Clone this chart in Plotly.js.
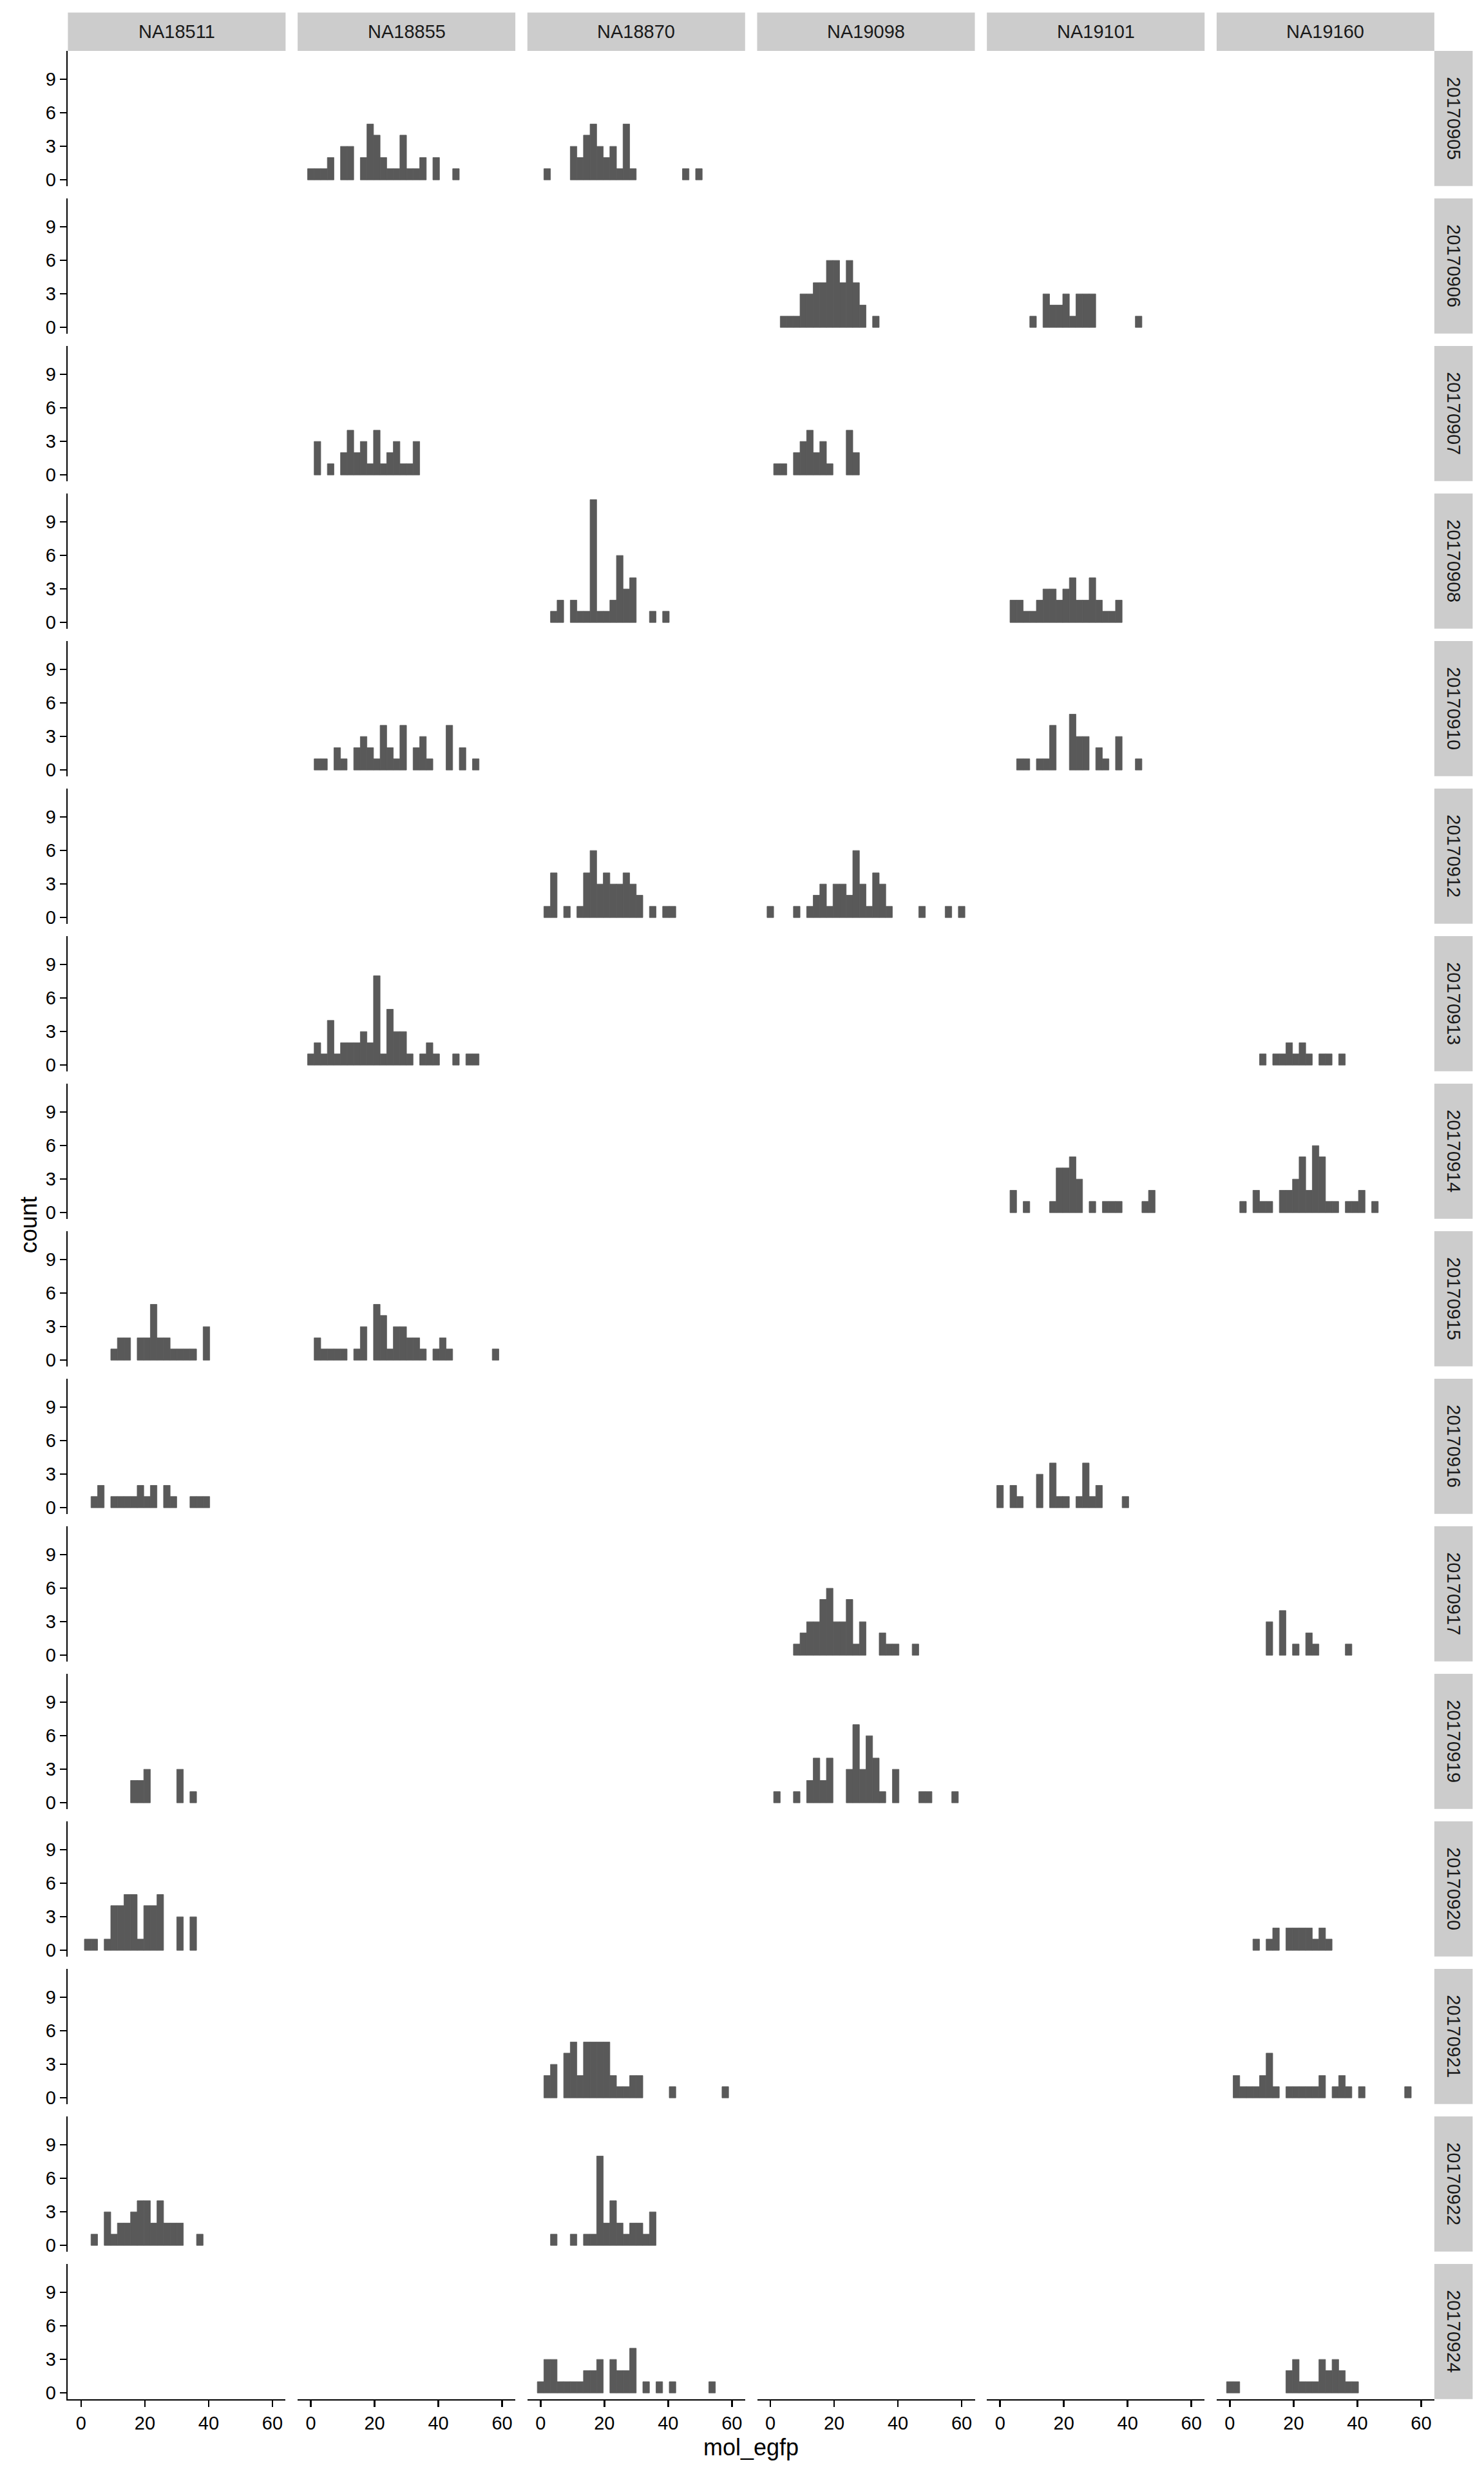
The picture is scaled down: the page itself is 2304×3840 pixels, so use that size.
<!DOCTYPE html>
<html><head><meta charset="utf-8">
<script src="https://cdn.plot.ly/plotly-3.0.1.min.js"></script>
<style>html,body{margin:0;padding:0;background:#fff}#chart{width:2304px;height:3840px}</style>
</head><body><div id="chart"></div>
<script>
// facet labels
const individuals = ["NA18511","NA18855","NA18870","NA19098","NA19101","NA19160"];
const dates = ["20170905","20170906","20170907","20170908","20170910","20170912","20170913","20170914",
               "20170915","20170916","20170917","20170919","20170920","20170921","20170922","20170924"];
const xTicks = [0,20,40,60];
const yTicks = [0,3,6,9];
const binWidth = 60/29;   // 30 bins over the data range, bin i centred at i*binWidth

// histogram counts per bin (index 0 = bin centred at 0)
const NA18855_20170905 = [1,1,1,2,0,3,3,0,2,5,4,2,1,1,4,1,1,2,0,2,0,0,1];
const NA18870_20170905 = [0,1,0,0,0,3,2,4,5,3,2,3,1,5,1,0,0,0,0,0,0,0,1,0,1];
const NA19098_20170906 = [0,0,1,1,1,3,3,4,4,6,6,4,6,4,2,0,1];
const NA19101_20170906 = [0,0,0,0,0,1,0,3,2,2,3,1,3,3,3,0,0,0,0,0,0,1];
const NA18855_20170907 = [0,3,0,1,0,2,4,2,3,1,4,1,2,3,1,1,3];
const NA19098_20170907 = [0,1,1,0,2,3,4,2,3,1,0,0,4,2];
const NA18870_20170908 = [0,0,1,2,0,2,1,1,11,1,1,2,6,3,4,0,0,1,0,1];
const NA19101_20170908 = [0,0,2,2,1,1,2,3,3,2,3,4,2,2,4,2,1,1,2];
const NA18855_20170910 = [0,1,1,0,2,1,0,2,3,2,1,4,2,1,4,0,2,3,1,0,0,4,0,2,0,1];
const NA19101_20170910 = [0,0,0,1,1,0,1,1,4,0,0,5,3,3,0,2,1,0,3,0,0,1];
const NA18870_20170912 = [0,1,4,0,1,0,1,4,6,3,4,3,3,4,3,2,0,1,0,1,1];
const NA19098_20170912 = [1,0,0,0,1,0,1,2,3,1,3,3,2,6,3,1,4,3,1,0,0,0,0,1,0,0,0,1,0,1];
const NA18855_20170913 = [1,2,1,4,1,2,2,2,3,2,8,1,5,3,3,1,0,1,2,1,0,0,1,0,1,1];
const NA19160_20170913 = [0,0,0,0,0,1,0,1,1,2,1,2,1,0,1,1,0,1];
const NA19101_20170914 = [0,0,2,0,1,0,0,0,1,4,4,5,3,0,1,0,1,1,1,0,0,0,1,2];
const NA19160_20170914 = [0,0,1,0,2,1,1,0,2,2,3,5,2,6,5,1,1,0,1,1,2,0,1];
const NA18511_20170915 = [0,0,0,0,0,1,2,2,0,2,2,5,2,2,1,1,1,1,0,3];
const NA18855_20170915 = [0,2,1,1,1,1,0,1,3,0,5,4,1,3,3,2,2,1,0,1,2,1,0,0,0,0,0,0,1];
const NA18511_20170916 = [0,0,1,2,0,1,1,1,1,2,1,2,0,2,1,0,0,1,1,1];
const NA19101_20170916 = [2,0,2,1,0,0,3,0,4,1,1,0,1,4,1,2,0,0,0,1];
const NA19098_20170917 = [0,0,0,0,1,2,3,3,5,6,3,3,5,1,3,0,0,2,1,1,0,0,1];
const NA19160_20170917 = [0,0,0,0,0,0,3,0,4,0,1,0,2,1,0,0,0,0,1];
const NA18511_20170919 = [0,0,0,0,0,0,0,0,2,2,3,0,0,0,0,3,0,1];
const NA19098_20170919 = [0,1,0,0,1,0,2,4,2,4,0,0,3,7,3,6,4,1,0,3,0,0,0,1,1,0,0,0,1];
const NA18511_20170920 = [0,1,1,0,1,4,4,5,5,1,4,4,5,0,0,3,0,3];
const NA19160_20170920 = [0,0,0,0,1,0,1,2,0,2,2,2,2,1,2,1];
const NA18870_20170921 = [0,2,3,0,4,5,2,5,5,5,5,2,1,1,2,2,0,0,0,0,1,0,0,0,0,0,0,0,1];
const NA19160_20170921 = [0,2,1,1,1,2,4,1,0,1,1,1,1,1,2,0,1,2,1,0,1,0,0,0,0,0,0,1];
const NA18511_20170922 = [0,0,1,0,3,1,2,2,3,4,4,2,4,2,2,2,0,0,1];
const NA18870_20170922 = [0,0,1,0,0,1,0,1,1,8,2,4,2,1,2,2,1,3];
const NA18870_20170924 = [1,3,3,1,1,1,1,2,2,3,0,3,2,2,4,0,1,0,1,0,1,0,0,0,0,0,1];
const NA19160_20170924 = [1,1,0,0,0,0,0,0,0,2,3,1,1,1,3,2,3,2,1,1];

const panels = [
  ["20170905","NA18855",NA18855_20170905],["20170905","NA18870",NA18870_20170905],
  ["20170906","NA19098",NA19098_20170906],["20170906","NA19101",NA19101_20170906],
  ["20170907","NA18855",NA18855_20170907],["20170907","NA19098",NA19098_20170907],
  ["20170908","NA18870",NA18870_20170908],["20170908","NA19101",NA19101_20170908],
  ["20170910","NA18855",NA18855_20170910],["20170910","NA19101",NA19101_20170910],
  ["20170912","NA18870",NA18870_20170912],["20170912","NA19098",NA19098_20170912],
  ["20170913","NA18855",NA18855_20170913],["20170913","NA19160",NA19160_20170913],
  ["20170914","NA19101",NA19101_20170914],["20170914","NA19160",NA19160_20170914],
  ["20170915","NA18511",NA18511_20170915],["20170915","NA18855",NA18855_20170915],
  ["20170916","NA18511",NA18511_20170916],["20170916","NA19101",NA19101_20170916],
  ["20170917","NA19098",NA19098_20170917],["20170917","NA19160",NA19160_20170917],
  ["20170919","NA18511",NA18511_20170919],["20170919","NA19098",NA19098_20170919],
  ["20170920","NA18511",NA18511_20170920],["20170920","NA19160",NA19160_20170920],
  ["20170921","NA18870",NA18870_20170921],["20170921","NA19160",NA19160_20170921],
  ["20170922","NA18511",NA18511_20170922],["20170922","NA18870",NA18870_20170922],
  ["20170924","NA18870",NA18870_20170924],["20170924","NA19160",NA19160_20170924]
];

// ---- geometry (pixels) ----
const W = 2304, H = 3840;
const L0 = 105.4, CP = 356.7, PW = 338;
const T0 = 79, RP = 229, PH = 209.7;
const STRIP = 59.5;
const FONT = "Liberation Sans, Arial, Helvetica, sans-serif";
const nR = dates.length, nC = individuals.length;

const layout = {
  width: W, height: H, margin: {l:0,r:0,t:0,b:0},
  paper_bgcolor: "#fff", plot_bgcolor: "rgba(0,0,0,0)",
  showlegend: false, hovermode: false,
  font: {family: FONT, color: "#000"},
  shapes: [], annotations: []
};
const ax = k => (k === 1 ? "" : String(k));
const traces = [];

for (let r = 0; r < nR; r++) {
  for (let c = 0; c < nC; c++) {
    const k = r*nC + c + 1;
    const x0 = L0 + c*CP, y0 = T0 + r*RP;
    const bottomRow = (r === nR-1), leftCol = (c === 0);
    layout["xaxis"+ax(k)] = {
      domain: [x0/W, (x0+PW)/W], range: [-4.14, 64.14], anchor: "y"+ax(k),
      showgrid: false, zeroline: false, fixedrange: true,
      showline: bottomRow, linecolor: "#000", linewidth: 2.6,
      ticks: bottomRow ? "outside" : "", ticklen: 10, tickwidth: 2.6, tickcolor: "#000",
      tickmode: "array", tickvals: xTicks, ticktext: xTicks.map(String),
      showticklabels: bottomRow, tickfont: {family: FONT, size: 29, color: "#000"}
    };
    layout["yaxis"+ax(k)] = {
      domain: [1-(y0+PH)/H, 1-y0/H], range: [-0.55, 11.55], anchor: "x"+ax(k),
      showgrid: false, zeroline: false, fixedrange: true,
      showline: leftCol, linecolor: "#000", linewidth: 2.6,
      ticks: leftCol ? "outside" : "", ticklen: 10, tickwidth: 2.6, tickcolor: "#000",
      tickmode: "array", tickvals: yTicks, ticktext: yTicks.map(String),
      showticklabels: leftCol, tickfont: {family: FONT, size: 29, color: "#000"}
    };
    // empty trace so that every facet's axes are drawn
    traces.push({type: "bar", x: [], y: [], xaxis: "x"+ax(k), yaxis: "y"+ax(k), hoverinfo: "skip"});
  }
}

// column strips (top)
individuals.forEach((name, c) => {
  const x0 = L0 + c*CP;
  layout.shapes.push({type:"rect", xref:"paper", yref:"paper", x0:x0/W, x1:(x0+PW)/W,
    y0:1-T0/H, y1:1-(T0-STRIP)/H, fillcolor:"#CCCCCC", line:{width:0}, layer:"below"});
  layout.annotations.push({xref:"paper", yref:"paper", x:(x0+PW/2)/W, y:1-(T0-STRIP/2)/H,
    text:name, showarrow:false, xanchor:"center", yanchor:"middle",
    font:{family:FONT, size:29, color:"#1A1A1A"}});
});
// row strips (right)
const SX = L0 + (nC-1)*CP + PW;
dates.forEach((d, r) => {
  const y0 = T0 + r*RP;
  layout.shapes.push({type:"rect", xref:"paper", yref:"paper", x0:SX/W, x1:(SX+STRIP)/W,
    y0:1-(y0+PH)/H, y1:1-y0/H, fillcolor:"#CCCCCC", line:{width:0}, layer:"below"});
  layout.annotations.push({xref:"paper", yref:"paper", x:(SX+STRIP/2)/W, y:1-(y0+PH/2)/H,
    text:d, showarrow:false, textangle:90, xanchor:"center", yanchor:"middle",
    font:{family:FONT, size:29, color:"#1A1A1A"}});
});
// axis titles
layout.annotations.push({xref:"paper", yref:"paper", x:(L0+(nC*CP-(CP-PW))/2)/W, y:1-3798/H,
  text:"mol_egfp", showarrow:false, xanchor:"center", yanchor:"middle",
  font:{family:FONT, size:36, color:"#000"}});
layout.annotations.push({xref:"paper", yref:"paper", x:44/W, y:1-(T0+((nR-1)*RP+PH)/2)/H,
  text:"count", showarrow:false, textangle:-90, xanchor:"center", yanchor:"middle",
  font:{family:FONT, size:36, color:"#000"}});

// histogram bars (only non-empty bins are drawn)
panels.forEach(([d, ind, counts]) => {
  const r = dates.indexOf(d), c = individuals.indexOf(ind);
  const k = r*nC + c + 1;
  const bins = counts.map((v, i) => i).filter(i => counts[i] > 0);
  traces.push({
    type: "bar", x: bins.map(i => i*binWidth), y: bins.map(i => counts[i]),
    width: binWidth, xaxis: "x"+ax(k), yaxis: "y"+ax(k),
    marker: {color: "#595959", line: {color: "#595959", width: 0.8}}, hoverinfo: "skip"
  });
});

Plotly.newPlot("chart", traces, layout, {staticPlot: true, displayModeBar: false});
</script>
</body></html>
